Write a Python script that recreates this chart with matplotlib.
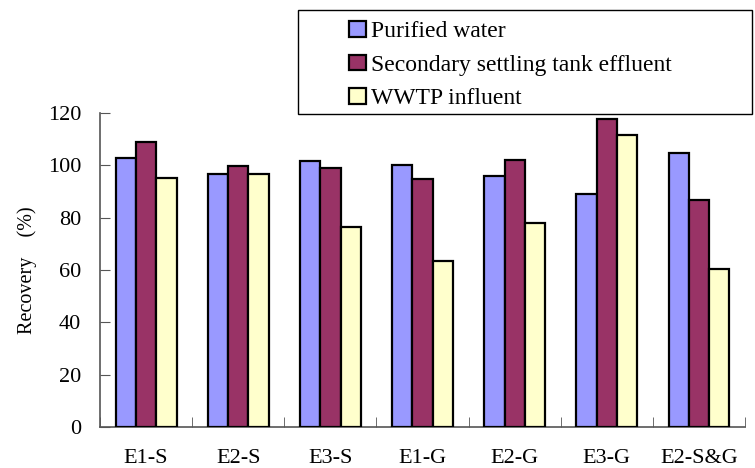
import matplotlib
matplotlib.use('Agg')
import matplotlib.pyplot as plt
import numpy as np
from matplotlib.patches import Rectangle

plt.rcParams['font.family'] = ['Liberation Serif', 'Noto Sans CJK JP']

# data
categories = ['E1-S', 'E2-S', 'E3-S', 'E1-G', 'E2-G', 'E3-G', 'E2-S&G']
series_names = ['Purified water', 'Secondary settling tank effluent', 'WWTP influent']
purified = [102.7, 96.8, 101.5, 100.0, 95.9, 88.9, 104.7]
secondary = [108.8, 99.7, 98.8, 94.8, 102.1, 117.7, 86.7]
influent = [95.0, 96.7, 76.3, 63.4, 78.0, 111.6, 60.3]
colors = ['#9999FF', '#993366', '#FFFFCC']
yticks = [0, 20, 40, 60, 80, 100, 120]

fig = plt.figure(figsize=(7.55, 4.68), dpi=100)
ax = fig.add_axes([0.1325, 0.0876, 0.8543, 0.6709])

x = np.arange(len(categories))
w = 0.22
bars = []
for i, (vals, c) in enumerate(zip([purified, secondary, influent], colors)):
    b = ax.bar(x + (i - 1) * w, vals, width=w, color=c, edgecolor='black',
               linewidth=1.6, label=series_names[i], zorder=3)
    bars.append(b)

ax.set_xlim(-0.5, len(categories) - 0.5)
ax.set_ylim(0, 120)
ax.set_yticks(yticks)
ax.set_xticks(x)
ax.set_xticklabels(categories)
ax.set_xticks(np.arange(len(categories) + 1) - 0.5, minor=True)
ax.tick_params(axis='x', which='major', length=0, labelsize=16, pad=15.5)
ax.tick_params(axis='x', which='minor', direction='in', length=7, color='#555555')
ax.tick_params(axis='y', direction='in', length=7, color='#555555', labelsize=16, pad=13.5)

for s in ['top', 'right']:
    ax.spines[s].set_visible(False)
for s in ['left', 'bottom']:
    ax.spines[s].set_color('#555555')
    ax.spines[s].set_linewidth(1.2)

ax.set_ylabel('Recovery\u3000(%)', fontsize=14.5, labelpad=8)

# legend box in figure space
fig.patches.append(Rectangle((298 / 755, 1 - 114 / 468), 454 / 755, 104 / 468,
                             transform=fig.transFigure, facecolor='white',
                             edgecolor='black', linewidth=1.0))
leg = fig.legend(handles=bars, loc='upper left',
                 bbox_to_anchor=(349 / 755, 1 - 21 / 468),
                 frameon=False, fontsize=17, handlelength=0.72, handleheight=0.66,
                 handletextpad=0.2, labelspacing=0.52, borderpad=0, borderaxespad=0)

fig.savefig('out.png', dpi=100)
